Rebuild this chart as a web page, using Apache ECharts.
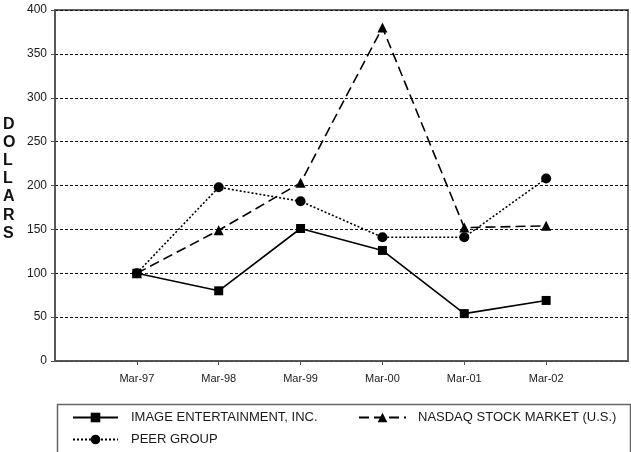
<!DOCTYPE html>
<html>
<head>
<meta charset="utf-8">
<script src="https://cdn.jsdelivr.net/npm/echarts@6/dist/echarts.min.js"></script>
<style>html,body{margin:0;padding:0;background:#fff;}#c{width:631px;height:452px;}</style>
</head>
<body>
<div id="c"></div>
<script>
const categories = ['Mar-97', 'Mar-98', 'Mar-99', 'Mar-00', 'Mar-01', 'Mar-02'];
const imageEnt = [100, 80, 151, 126, 54, 69];
const nasdaq = [100, 149, 203, 380, 152, 154];
const peerGroup = [100, 198, 182, 141, 141, 208];
const yTicks = [0, 50, 100, 150, 200, 250, 300, 350, 400];
const seriesNames = ['IMAGE ENTERTAINMENT, INC.', 'NASDAQ STOCK MARKET (U.S.)', 'PEER GROUP'];

// pad the category axis with an empty slot on each side
const axisCats = [''].concat(categories, ['']);
const pad = arr => [null].concat(arr, [null]);

const chart = echarts.init(document.getElementById('c'), null, {renderer: 'canvas'});
const font = 'Arial, "Liberation Sans", sans-serif';
const legendText = pl => ({color: '#1a1a1a', fontSize: 13, fontFamily: font, padding: [0, 0, 0, pl]});
chart.setOption({
  animation: false,
  backgroundColor: '#fff',
  grid: {left: 55, right: 1, top: 10, bottom: 91, show: true, borderColor: '#666', borderWidth: 2, containLabel: false},
  xAxis: {
    type: 'category', data: axisCats, boundaryGap: false,
    axisLine: {lineStyle: {color: '#555', width: 1.5}},
    axisTick: {show: true, length: 4, lineStyle: {color: '#555'}, interval: (i, v) => v !== ''},
    axisLabel: {interval: 0, color: '#1a1a1a', fontSize: 11, fontFamily: font, margin: 12},
    splitLine: {show: false}
  },
  yAxis: {
    type: 'value', min: yTicks[0], max: yTicks[yTicks.length - 1], interval: 50,
    axisLine: {show: true, lineStyle: {color: '#555', width: 1.5}},
    axisTick: {show: true, length: 4, lineStyle: {color: '#555'}},
    axisLabel: {color: '#1a1a1a', fontSize: 12, fontFamily: font, margin: 8},
    splitLine: {show: true, lineStyle: {color: '#111', type: [3, 2], width: 1}}
  },
  legend: [
    {left: 72, top: 411, padding: 0, itemWidth: 45, itemHeight: 12, data: [seriesNames[0]], textStyle: legendText(8)},
    {left: 72, top: 433, padding: 0, itemWidth: 45, itemHeight: 12, data: [seriesNames[2]], textStyle: legendText(8)},
    {left: 358, top: 411, padding: 0, itemWidth: 47, itemHeight: 12, data: [seriesNames[1]], textStyle: legendText(7)}
  ],
  graphic: [
    {type: 'rect', left: 55, top: 402, shape: {width: 573, height: 49},
     style: {fill: 'none', stroke: '#666', lineWidth: 1.5}, silent: true},
    {type: 'text', left: 3, top: 115,
     style: {text: 'D\nO\nL\nL\nA\nR\nS', font: 'bold 16px Arial, "Liberation Sans", sans-serif', lineHeight: 18.2, fill: '#111', align: 'center', width: 14}}
  ],
  series: [
    {name: seriesNames[0], type: 'line', data: pad(imageEnt), symbol: 'rect', symbolSize: 9,
     itemStyle: {color: '#000'}, lineStyle: {color: '#000', width: 1.6, type: 'solid'}},
    {name: seriesNames[1], type: 'line', data: pad(nasdaq), symbol: 'triangle', symbolSize: 10,
     itemStyle: {color: '#000'}, lineStyle: {color: '#000', width: 1.6, type: [10, 5]}},
    {name: seriesNames[2], type: 'line', data: pad(peerGroup), symbol: 'circle', symbolSize: 10,
     itemStyle: {color: '#000'}, lineStyle: {color: '#000', width: 1.6, type: [2, 2]}}
  ]
});
</script>
</body>
</html>
